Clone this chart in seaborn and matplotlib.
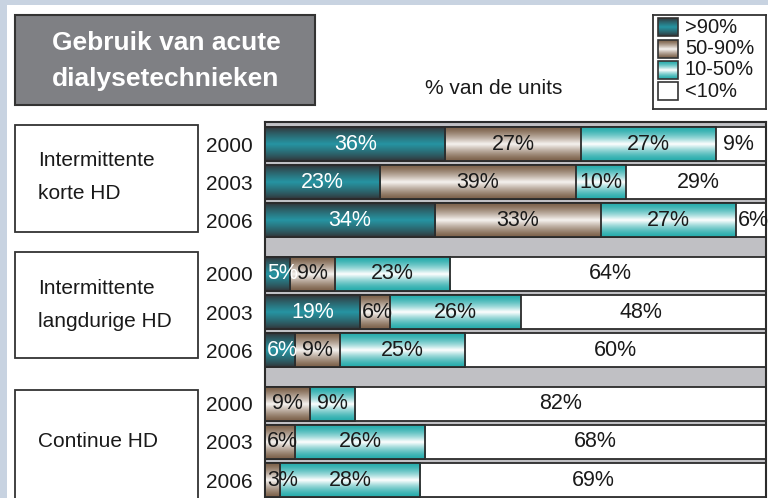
import numpy as np
import matplotlib
matplotlib.use("Agg")
import matplotlib.pyplot as plt
import seaborn as sns
from matplotlib.patches import Rectangle

# data
groups = ["Intermittente\nkorte HD", "Intermittente\nlangdurige HD", "Continue HD"]
years = ["2000", "2003", "2006"]
categories = [">90%", "50-90%", "10-50%", "<10%"]

gt90 = [36, 23, 34, 5, 19, 6, 0, 0, 0]
p50_90 = [27, 39, 33, 9, 6, 9, 9, 6, 3]
p10_50 = [27, 10, 27, 23, 26, 25, 9, 26, 28]
lt10 = [9, 29, 6, 64, 48, 60, 82, 68, 69]

# styling: (edge colour, centre colour, curve exponent)
grads = {
    ">90%": ((50, 50, 53), (38, 148, 162), 0.8),
    "50-90%": ((124, 97, 74), (246, 243, 240), 1.3),
    "10-50%": ((40, 172, 172), (255, 255, 255), 1.5),
    "<10%": ((255, 255, 255), (255, 255, 255), 1.0),
}
text_col = {">90%": "white", "50-90%": "#1a1a1a", "10-50%": "#1a1a1a", "<10%": "#1a1a1a"}
edge = "#2b2b2b"

W, H = 768, 498
sns.set_theme(style="white")
plt.rcParams['font.family'] = ['Liberation Sans', 'DejaVu Sans']


def grad_img(cat, n=64):
    e, m, p = grads[cat]
    t = np.linspace(0, 1, n)
    f = (1 - np.abs(2 * t - 1)) ** p
    e = np.array(e) / 255
    m = np.array(m) / 255
    return (e[None, :] + (m - e)[None, :] * f[:, None])[:, None, :]


def fig_rect(x0, y0, x1, y1, **kw):
    return Rectangle((x0 / W, 1 - y1 / H), (x1 - x0) / W, (y1 - y0) / H,
                     transform=fig.transFigure, **kw)


fig = plt.figure(figsize=(W / 100, H / 100), dpi=100)
fig.patch.set_facecolor("#c8d3e1")
fig.add_artist(fig_rect(7, 5, W + 2, H + 2, facecolor="white", edgecolor="none", zorder=-5))

ax = fig.add_axes([265 / W, 0, (766 - 265) / W, (H - 122) / H])
ax.set_facecolor("#c0c0c4")

pos = [g * 3.4 + i for g in range(len(groups)) for i in range(len(years))]
vals = np.array([gt90, p50_90, p10_50, lt10], dtype=float)
cum = np.cumsum(vals, axis=0)

# stacked bars: draw cumulative totals from the longest to the shortest
for k in reversed(range(len(categories))):
    cat = categories[k]
    xs = cum[k] if k < 3 else np.maximum(cum[k], 100)  # white rest fills the row
    before = len(ax.patches)
    sns.barplot(x=xs, y=pos, orient="y", native_scale=True, width=0.89,
                errorbar=None, color="white", ax=ax)
    z = 2 + (3 - k)
    for p in ax.patches[before:]:
        p.set_facecolor("none")
        p.set_edgecolor(edge)
        p.set_linewidth(1.3)
        p.set_zorder(z + 0.5)
        x0, y0, w, h = p.get_x(), p.get_y(), p.get_width(), p.get_height()
        if w <= 0:
            continue
        ax.imshow(grad_img(cat), extent=[x0, x0 + w, y0 + h, y0], aspect="auto",
                  interpolation="bilinear", zorder=z, clip_path=p, clip_on=True)
    for j, y in enumerate(pos):
        v = vals[k, j]
        if v <= 0:
            continue
        start = cum[k, j] - v
        if v < 7:
            ax.text(start + 0.4, y, f"{int(v)}%", ha="left", va="center",
                    fontsize=15.5, color=text_col[cat], zorder=10)
        else:
            ax.text(start + v / 2, y, f"{int(v)}%", ha="center", va="center",
                    fontsize=15.5, color=text_col[cat], zorder=10)

ax.set_xlim(0, 100)
ax.set_ylim(9.27, -0.58)
ax.set_xticks([])
ax.set_yticks(pos, labels=years * len(groups))
ax.tick_params(axis="y", length=0, pad=9, labelsize=15, labelcolor="#1a1a1a")
ax.set_xlabel("")
ax.set_ylabel("")
for s in ["top", "left", "right"]:
    ax.spines[s].set_color(edge)
    ax.spines[s].set_linewidth(1.5)
ax.spines["bottom"].set_visible(False)

# title box
fig.add_artist(fig_rect(15, 15, 315, 105, facecolor="#7f8084", edgecolor="#333333", linewidth=1.5))
fig.text(166 / W, 1 - 61 / H, "Gebruik van acute\ndialysetechnieken", ha="center", va="center",
         fontsize=19, fontweight="bold", color="white", linespacing=1.6)

# group boxes
boxes = [(125, 232), (252, 358), (390, 505)]
label_y = [177, 305, 441]
for g, (y0, y1) in enumerate(boxes):
    fig.add_artist(fig_rect(15, y0, 198, y1, facecolor="white", edgecolor="#333333", linewidth=1.3))
    fig.text(38 / W, 1 - label_y[g] / H, groups[g], ha="left", va="center",
             fontsize=15, color="#1a1a1a", linespacing=1.9)

fig.text(494 / W, 1 - 88 / H, "% van de units", ha="center", va="center", fontsize=15, color="#1a1a1a")

# legend
lax = fig.add_axes([653 / W, 1 - 109 / H, (766 - 653) / W, (109 - 15) / H])
lax.set_xticks([])
lax.set_yticks([])
for s in lax.spines.values():
    s.set_color("#333333")
    s.set_linewidth(1.3)
for i, cat in enumerate(categories):
    yc = 12.5 + i * 21.2
    r = Rectangle((5, yc - 9), 20, 18, facecolor="none", edgecolor="#333333", linewidth=1.2, zorder=3)
    lax.add_patch(r)
    lax.imshow(grad_img(cat), extent=[5, 25, yc + 9, yc - 9], aspect="auto",
               interpolation="bilinear", zorder=2)
    lax.text(32, yc, cat, ha="left", va="center", fontsize=14.5, color="#1a1a1a")
lax.set_xlim(0, 113)
lax.set_ylim(94, 0)

fig.savefig("out.png", dpi=100)
